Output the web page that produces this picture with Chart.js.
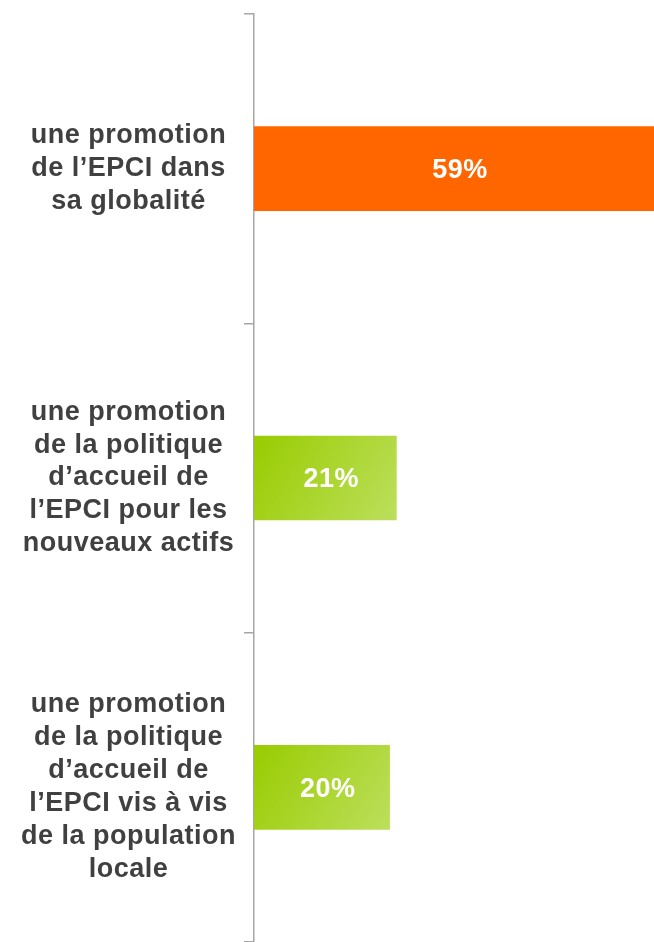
<!DOCTYPE html>
<html>
<head>
<meta charset="utf-8">
<script src="https://cdn.jsdelivr.net/npm/chart.js@4/dist/chart.umd.min.js"></script>
<style>
  html, body { margin: 0; padding: 0; background: #fff; }
  #wrap { width: 654px; height: 942px; }
</style>
</head>
<body>
<div id="wrap"><canvas id="graf"></canvas></div>
<script>
'use strict';

const categorias = [
    ['une promotion', 'de l\u2019EPCI dans', 'sa globalit\u00e9'],
    ['une promotion', 'de la politique', 'd\u2019accueil de', 'l\u2019EPCI pour les', 'nouveaux actifs'],
    ['une promotion', 'de la politique', 'd\u2019accueil de', 'l\u2019EPCI vis \u00e0 vis', 'de la population', 'locale']
];
const valores = [59, 21, 20];
const rotulos = ['59%', '21%', '20%'];

// cor das barras: laranja para a primeira, degradê verde para as outras
function corBarra(context)
{
    const chart = context.chart;
    if(context.dataIndex === 0) return '#FF6600';
    const xs = chart.scales.x, ys = chart.scales.y;
    if(!chart.chartArea || !xs || !ys) return '#A8D334';
    const x0 = xs.getPixelForValue(0);
    const x1 = xs.getPixelForValue(valores[context.dataIndex]);
    const yc = ys.getPixelForValue(context.dataIndex);
    const g = chart.ctx.createLinearGradient(x0, yc - 42, x1, yc + 42);
    g.addColorStop(0, '#99CC00');
    g.addColorStop(1, '#BCDF5C');
    return g;
}

// espaçamento entre letras, como no original (o resize do canvas apaga o estado)
const espacamento = {
    id: 'espacamento',
    beforeUpdate(chart) { chart.ctx.letterSpacing = '0.5px'; },
    beforeDraw(chart) { chart.ctx.letterSpacing = '0.5px'; }
};

// valores escritos dentro das barras
const rotulosBarras = {
    id: 'rotulosBarras',
    afterDatasetsDraw(chart) {
        const ctx = chart.ctx;
        const meta = chart.getDatasetMeta(0);
        ctx.save();
        ctx.fillStyle = '#FFFFFF';
        ctx.font = 'bold 27px "Liberation Sans", Arial, sans-serif';
        ctx.textAlign = 'center';
        ctx.textBaseline = 'middle';
        meta.data.forEach(function(bar, i){
            const meio = (bar.x + bar.base) / 2;
            ctx.fillText(rotulos[i], meio + 6, bar.y + 2);
        });
        ctx.restore();
    }
};

new Chart(document.getElementById('graf'), {
    type: 'bar',
    data: {
        labels: categorias,
        datasets: [{
            data: valores,
            backgroundColor: corBarra,
            borderWidth: 0,
            barThickness: 84
        }]
    },
    options: {
        indexAxis: 'y',
        responsive: true,
        maintainAspectRatio: false,
        animation: false,
        layout: { padding: { top: 14, bottom: -2, left: 0, right: 0 } },
        plugins: {
            legend: { display: false },
            tooltip: { enabled: false }
        },
        scales: {
            x: {
                display: false,
                min: 0,
                max: 59
            },
            y: {
                offset: true,
                afterFit: function(scale) {
                    scale.width = 254;
                    scale.paddingTop = 0;
                    scale.paddingBottom = 0;
                },
                border: { display: true, color: '#A6A6A6', width: 1.5 },
                grid: {
                    offset: true,
                    drawOnChartArea: false,
                    drawTicks: true,
                    tickLength: 10,
                    color: '#A6A6A6',
                    lineWidth: 1.5
                },
                ticks: {
                    crossAlign: 'center',
                    padding: 8,
                    color: '#404040',
                    font: { family: '"Liberation Sans", Arial, sans-serif', size: 27, weight: 'bold', lineHeight: 1.22 }
                }
            }
        }
    },
    plugins: [espacamento, rotulosBarras]
});
</script>
</body>
</html>
